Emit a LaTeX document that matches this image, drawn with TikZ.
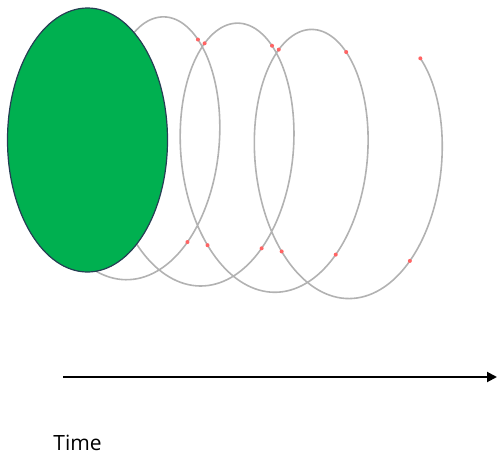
\documentclass[tikz,border=0pt]{standalone}
\usepackage{fontspec}
\setmainfont{Open Sans}
\usetikzlibrary{arrows.meta,positioning}
\definecolor{BlobGreen}{RGB}{0,176,80}
\definecolor{BlobEdge}{RGB}{38,62,84}
\definecolor{CoilGray}{RGB}{178,178,178}
\definecolor{HandleRed}{RGB}{255,100,100}
\tikzset{coil/.style={CoilGray,line width=0.8pt},
	handle/.style={fill=HandleRed},
	timeline/.style={line width=1pt,-{Triangle[length=5pt,width=5pt]}},
	declare function={cx(\t)=200+11.8*\t+74.5*sin(\t r); cy(\t)=304-\t-133*cos(\t r);}}

\begin{document}
\begin{tikzpicture}[x=0.5pt,y=0.5pt]
	\useasboundingbox (0,0) rectangle (498,457);
	% the coil, one turn per period
	\draw[coil] plot[domain=-7.8:15.108,samples=500,smooth] ({cx(\x)},{cy(\x)});
	\foreach \t in {-5.503,-3.742,-2.592,-0.86,0.78,2.542,3.692,5.423,7.063,8.825,9.975,11.706,13.346,15.108}
		\fill[handle] ({cx(\t)},{cy(\t)}) circle (2);
	\draw[fill=BlobGreen,draw=BlobEdge,line width=0.6pt] (87.5,317) ellipse (80 and 132);
	% time axis
	\coordinate (t0) at (63,80);
	\coordinate (t1) at (497,80);
	\draw[timeline] (t0) -- (t1);
	\node[anchor=base west,inner sep=0pt,font=\fontsize{10.5}{12}\selectfont] (time) at (53,7) {Time};
\end{tikzpicture}
\end{document}
